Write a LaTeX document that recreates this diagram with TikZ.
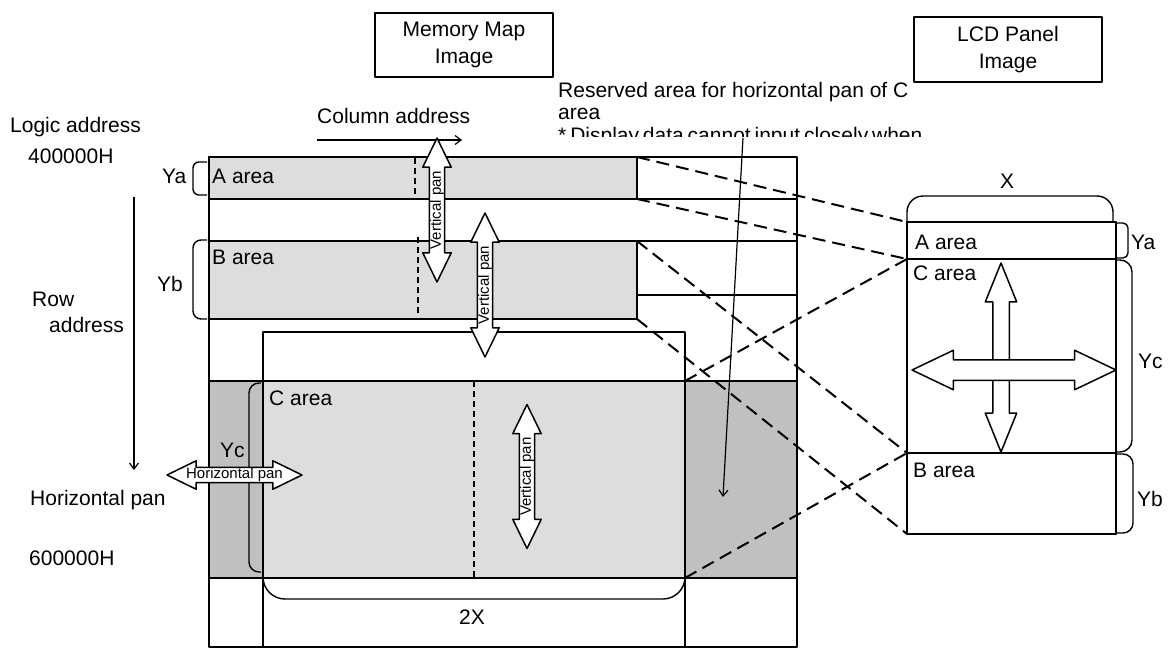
\documentclass[tikz,border=0pt]{standalone}
\usepackage{fontspec}
\setmainfont{Liberation Sans}
\usetikzlibrary{shapes.arrows,arrows.meta}

\definecolor{areagray}{gray}{0.867}
\definecolor{bandgray}{gray}{0.753}

\tikzset{
  capbox/.style={draw, line width=1.5pt, align=center, font=\fontsize{21}{27}\selectfont},
  areabox/.style={draw, line width=1.4pt, fill=areagray, anchor=north west, inner sep=0pt, outer sep=0pt},
  lcdrow/.style={draw, line width=1.4pt, minimum width=209pt, anchor=north west, inner sep=0pt, outer sep=0pt},
  mapline/.style={line width=2pt, dash pattern=on 13pt off 7pt},
  midline/.style={line width=1.2pt, dash pattern=on 6pt off 4pt},
  bracepath/.style={line width=1.4pt},
  lbl/.style={inner sep=0pt, anchor=base west},
  thinarrow/.style={line width=1.2pt, -{Straight Barb[length=6pt,width=9pt]}},
  panarrow/.style={double arrow, draw, fill=white, line width=1.5pt, inner xsep=0pt, inner ysep=0pt,
    double arrow head extend=6.5pt, double arrow tip angle=52, minimum height=144pt,
    font=\fontsize{15}{15}\selectfont}
}

\begin{document}
\begin{tikzpicture}[x=1pt, y=-1pt, font=\fontsize{21}{22}\selectfont, line join=round]
\useasboundingbox (0,0) rectangle (1171,648);

% caption boxes
\node[capbox, minimum width=178pt, minimum height=64pt] (mapcap) at (464,45) {Memory Map\\Image};
\node[capbox, minimum width=188pt, minimum height=65pt] (lcdcap) at (1008,49.5) {LCD Panel\\Image};

% memory map
\fill[bandgray] (209,381) rectangle (797,578);
\node[areabox, minimum width=422pt, minimum height=197pt] (Carea) at (263,381) {};
\node[areabox, minimum width=428pt, minimum height=42pt] (Aarea) at (209,157) {};
\node[areabox, minimum width=428pt, minimum height=78pt] (Barea) at (209,241) {};
\foreach \y in {199,241,295}
  \draw[line width=1.4pt] (637,\y) -- (797,\y);
\draw[line width=1.4pt] (209,381) -- (797,381) (209,578) -- (797,578);
\draw[line width=1.4pt] (263,647) -- (263,332) -- (685,332) -- (685,647);
\draw[line width=2pt] (209,157) rectangle (797,647);
\draw[midline] (415,158) -- (415,194) (418,237) -- (418,315) (474,381) -- (474,578);

\node[lbl] (Alabel) at (212,183) {A area};
\node[lbl] (Blabel) at (212,264) {B area};
\node[lbl] (Clabel) at (269,405) {C area};

% braces of the memory map
\draw[bracepath, rounded corners=6pt] (207,162) -- (193,162) -- (193,195) -- (207,195);
\draw[bracepath, rounded corners=8pt] (207,240) -- (193,240) -- (193,319) -- (207,319);
\draw[bracepath, rounded corners=10pt] (261,383) -- (249,383) -- (249,572) -- (261,572);
\draw[bracepath, rounded corners=22pt] (263,578) -- (263,599) -- (685,599) -- (685,578);
\node[lbl] (Ya) at (162,183) {Ya};
\node[lbl] (Yb) at (157,291) {Yb};
\node[lbl] (Yc) at (220,457) {Yc};
\node[inner sep=0pt, anchor=base] (twoX) at (472,624) {2X};

% addresses
\node[lbl] (logic) at (10,132) {Logic address};
\node[lbl] (topaddr) at (28,163) {400000H};
\node[lbl] (row) at (32,306) {Row};
\node[lbl] (rowaddr) at (49,332) {address};
\node[lbl] (hpanlbl) at (30,505) {Horizontal pan};
\node[lbl] (endaddr) at (29,565) {600000H};
\node[lbl] (col) at (317,123) {Column address};
\path (134,197) coordinate (rowstart) (134,470) coordinate (rowend)
      (317,140) coordinate (colstart) (462,140) coordinate (colend);
\draw[thinarrow] (rowstart) -- (rowend);
\draw[thinarrow] (colstart) -- (colend);

% reserved area note
\begin{scope}
  \clip (540,60) rectangle (930,136);
  \node[lbl] (res1) at (558,97) {Reserved area for horizontal pan of C};
  \node[lbl] (res2) at (558,119.5) {area};
  \node[lbl] (res3) at (558,142) {\makebox[348pt][s]{* Display data cannot input closely when}};
\end{scope}

% LCD panel
\node[lcdrow, minimum height=37pt] (lcdA) at (907,222) {};
\node[lcdrow, minimum height=194pt] (lcdC) at (907,259) {};
\node[lcdrow, minimum height=81pt] (lcdB) at (907,453) {};
\draw[line width=2pt] (lcdA.north west) rectangle (lcdB.south east);
\node[lbl] (lcdAlabel) at (915,249) {A area};
\node[lbl] (lcdClabel) at (913,280) {C area};
\node[lbl] (lcdBlabel) at (913,477) {B area};
\draw[bracepath, rounded corners=16pt] (907,221) -- (907,196) -- (1113,196) -- (1113,221);
\draw[bracepath, rounded corners=5pt] (1117,223) -- (1128,223) -- (1128,258) -- (1117,258);
\draw[bracepath, rounded corners=12pt] (1117,260) -- (1132,260) -- (1132,452) -- (1117,452);
\draw[bracepath, rounded corners=10pt] (1117,454) -- (1133,454) -- (1133,533) -- (1117,533);
\node[inner sep=0pt, anchor=base] (X) at (1007,188) {X};
\node[lbl] (lcdYa) at (1131,249) {Ya};
\node[lbl] (lcdYc) at (1138,368) {Yc};
\node[lbl] (lcdYb) at (1137,506) {Yb};

% mapping of the areas
\foreach \s/\t in {Aarea.north east/lcdA.north west, Aarea.south east/lcdA.south west,
                   Barea.north east/lcdB.north west, Barea.south east/lcdB.south west,
                   Carea.north east/lcdC.north west, Carea.south east/lcdC.south west}
  \draw[mapline] (\s) -- (\t);

% pan arrows
\node[panarrow, rotate=90] (vpanA) at (437,210) {Vertical pan};
\node[panarrow, rotate=90] (vpanB) at (485,285) {Vertical pan};
\node[panarrow, rotate=90] (vpanC) at (527,476.5) {Vertical pan};
\node[panarrow, minimum height=135pt] (hpan) at (234.5,475) {Horizontal pan};
\node[panarrow, rotate=90, minimum height=189pt, inner ysep=7.5pt,
      double arrow head extend=7.5pt, double arrow tip angle=44] (lcdV) at (1001,357.5) {};
\node[panarrow, minimum height=204pt, inner ysep=9.5pt,
      double arrow head extend=9.5pt, double arrow tip angle=51] (lcdH) at (1014,370) {};

\path (743,138) coordinate (resstart) (723,497) coordinate (restip);
\draw[thinarrow] (resstart) -- (restip);
\end{tikzpicture}
\end{document}
